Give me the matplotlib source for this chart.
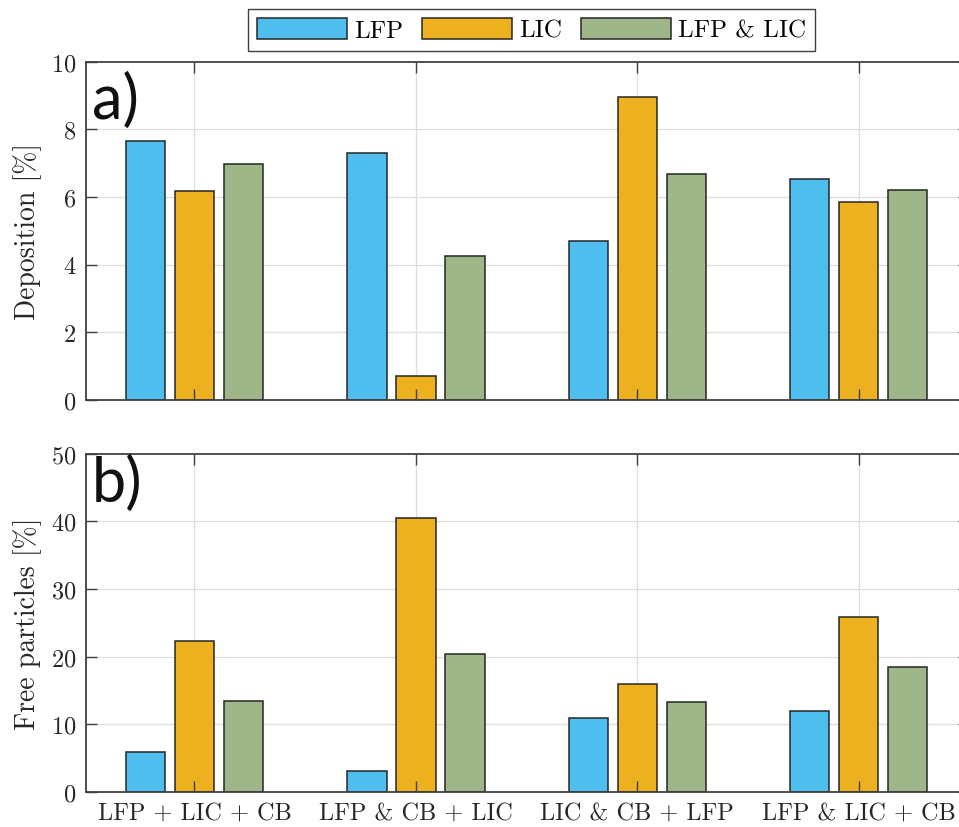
import numpy as np
import matplotlib
matplotlib.use('Agg')
import matplotlib.pyplot as plt

# Computer Modern look for all text
plt.rcParams['font.family'] = 'cmr10'
plt.rcParams['axes.formatter.use_mathtext'] = True
plt.rcParams['mathtext.fontset'] = 'cm'

# data
cases = ['LFP + LIC + CB', 'LFP & CB + LIC', 'LIC & CB + LFP', 'LFP & LIC + CB']
series = ['LFP', 'LIC', 'LFP & LIC']

deposition_lfp = [7.66, 7.30, 4.70, 6.54]
deposition_lic = [6.18, 0.71, 8.97, 5.85]
deposition_both = [6.98, 4.25, 6.67, 6.21]

free_lfp = [5.9, 3.05, 10.95, 11.9]
free_lic = [22.3, 40.5, 15.9, 25.9]
free_both = [13.4, 20.3, 13.2, 18.4]

colors = ['#4DBEEE', '#EDB120', '#9FB788']
edge = '#262626'
gridc = '#dedede'

W, H = 959, 828
fig = plt.figure(figsize=(W / 100, H / 100), dpi=100)

def px_axes(left, top, right, bottom):
    return fig.add_axes([left / W, 1 - bottom / H, (right - left) / W, (bottom - top) / H])

ax1 = px_axes(86, 62.7, 969.4, 400.7)
ax2 = px_axes(86, 454.7, 969.4, 792.7)

x = np.arange(1, len(cases) + 1)
width = 0.178
offset = 0.2215


def draw(ax, vals, ylim, yticks, ylabel, tag, tag_y):
    for i, (v, c, name) in enumerate(zip(vals, colors, series)):
        ax.bar(x + (i - 1) * offset, v, width, color=c, edgecolor=edge,
               linewidth=1.1, label=name, zorder=1)
    ax.set_xlim(0.51, 4.5)
    ax.set_ylim(*ylim)
    ax.set_yticks(yticks)
    ax.set_xticks(x)
    # light grid behind the bars
    for yt in yticks[1:-1]:
        ax.axhline(yt, color=gridc, lw=0.9, zorder=0)
    for xt in x:
        ax.axvline(xt, color=gridc, lw=0.9, zorder=0)
    ax.tick_params(direction='in', length=8, width=1.0, color='#404040',
                   top=True, right=True, labelsize=17.5, labelcolor='#262626', pad=7)
    for s in ax.spines.values():
        s.set_color('#404040')
        s.set_linewidth(1.3)
    ax.set_ylabel(ylabel, fontsize=20, color='#262626')
    ax.yaxis.set_label_coords(-0.05, 0.5)
    ax.text(0.007, tag_y, tag, transform=ax.transAxes, ha='left', va='top',
            fontsize=44, family='Lato', color='#111111')


draw(ax1, [deposition_lfp, deposition_lic, deposition_both], (0, 10),
     [0, 2, 4, 6, 8, 10], 'Deposition [%]', 'a)', 0.972)
ax1.set_xticklabels([])

draw(ax2, [free_lfp, free_lic, free_both], (0, 50),
     [0, 10, 20, 30, 40, 50], 'Free particles [%]', 'b)', 0.997)
ax2.set_xticklabels(cases)

handles, labels = ax1.get_legend_handles_labels()
leg = fig.legend(handles, labels, loc='center', ncol=3,
                 bbox_to_anchor=(531.5 / W, 1 - 31 / H), fontsize=18,
                 handlelength=3.6, handleheight=0.9, handletextpad=0.3,
                 columnspacing=0.75, borderpad=0.35, fancybox=False,
                 framealpha=1, edgecolor='#404040')
leg.get_frame().set_linewidth(1.0)

fig.savefig('out.png', dpi=100)
